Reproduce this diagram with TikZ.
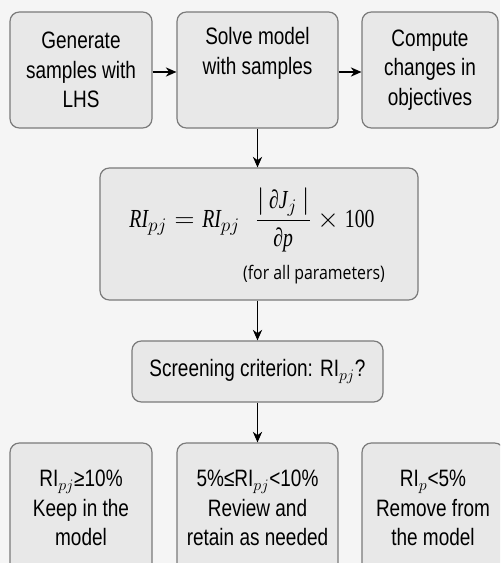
\documentclass[tikz,border=0pt]{standalone}
\usepackage{xcolor}
\usepackage{amsmath}
\usepackage{fontspec}
\setmainfont[FakeStretch=0.8]{Liberation Sans}
\newfontfamily\notefont[FakeStretch=0.85]{Open Sans}
\newfontfamily\eqfont[FakeStretch=0.76]{Liberation Serif}
\newcommand{\eqit}[1]{\text{\eqfont\itshape #1}}
\usetikzlibrary{positioning,shapes,arrows.meta,calc}

\definecolor{boxfill}{HTML}{E8E8E8}
\definecolor{boxline}{HTML}{7A7A7A}
\definecolor{pagebg}{HTML}{F5F5F5}

\begin{document}
\begin{tikzpicture}[x=0.75pt, y=-0.75pt,
    stepbox/.style={draw=boxline, fill=boxfill, line width=0.9pt, rounded corners=7pt,
        align=center, inner sep=2pt, font=\fontsize{17.8}{22}\selectfont},
    flow/.style={-{Stealth[length=8pt,width=7pt]}, line width=0.8pt}]
    \fill[pagebg] (0,0) rectangle (500,563);
    \useasboundingbox (0,0) rectangle (500,563);
    \clip (0,0) rectangle (500,563);
    % top row
    \node[stepbox, minimum width=106.5pt, minimum height=87pt] (gen) at (81,70) {Generate\\samples with\\LHS};
    \node[stepbox, minimum width=120.75pt, minimum height=87pt] (solve) at (257.5,70) {Solve model\\with samples\\\strut};
    \node[stepbox, minimum width=102pt, minimum height=87pt] (comp) at (430,70) {Compute\\changes in\\objectives};
    \draw[flow] (gen.east |- 0,72) -- (solve.west |- 0,72);
    \draw[flow] (solve.east |- 0,72) -- (comp.west |- 0,72);
    % formula
    \node[stepbox, minimum width=238.5pt, minimum height=99pt] (ri) at (259,234) {};
    \node (formula) at (252,220) {\fontsize{19.5}{23}\selectfont
        $\eqit{RI}_{pj} = \eqit{RI}_{pj}\;\; \dfrac{|\,\eqit{∂J}_j\,|}{\eqit{∂p}}\times \text{\eqfont 100}$};
    \node[font=\notefont\fontsize{14}{16}\selectfont] (note) at (314,275) {(for all parameters)};
    \draw[flow] (solve.south) -- (solve.south |- ri.north);
    % screening
    \node[stepbox, minimum width=188.25pt, minimum height=45.75pt] (screen) at (257.5,371.5) {Screening criterion: RI$_{pj}$?};
    \draw[flow] (ri.south -| screen.north) -- (screen.north);
    % outcomes
    \node[stepbox, minimum width=106.5pt, minimum height=97.5pt] (keep) at (81,508) {RI$_{pj}$≥10\%\\Keep in the\\model};
    \node[stepbox, minimum width=120.75pt, minimum height=97.5pt] (review) at (257.5,508) {5\%≤RI$_{pj}$<10\%\\Review and\\retain as needed};
    \node[stepbox, minimum width=106.5pt, minimum height=97.5pt] (remove) at (433,508) {RI$_{p}$<5\%\\Remove from\\the model};
    \draw[flow] (screen.south) -- (review.north);
\end{tikzpicture}
\end{document}
